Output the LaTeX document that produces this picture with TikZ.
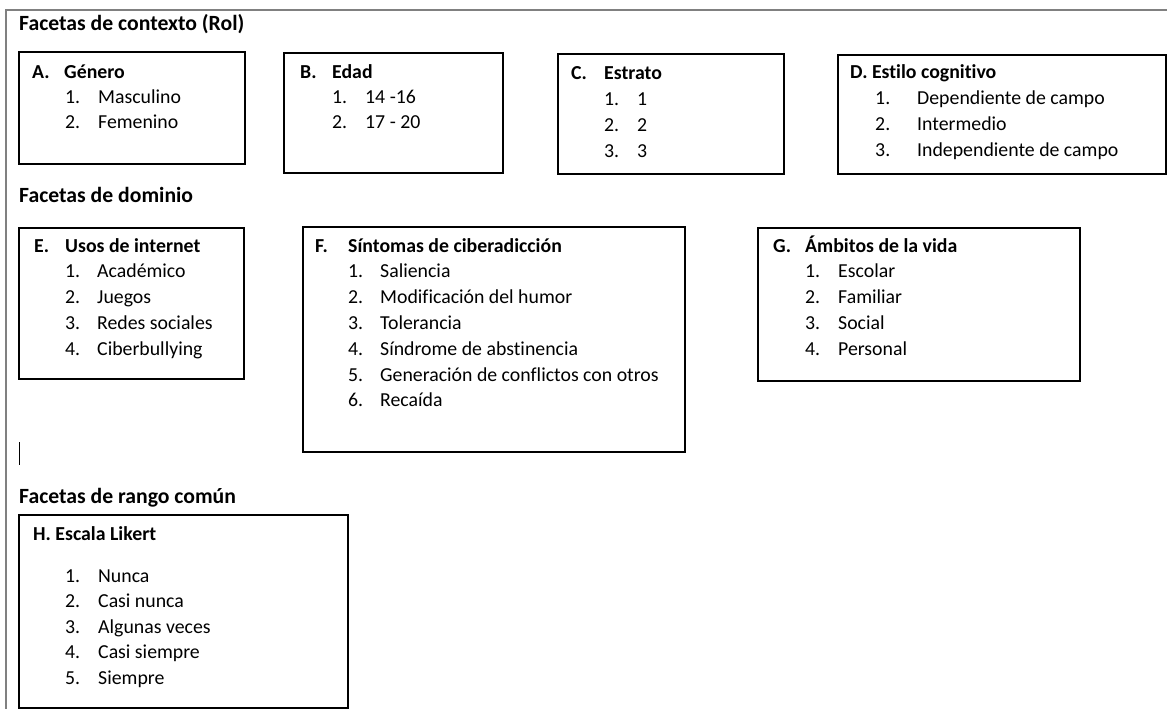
\documentclass[tikz,border=0pt]{standalone}
\usepackage{fontspec}
\setmainfont{Carlito}[Ligatures=NoCommon]
\usetikzlibrary{positioning}

\tikzset{
  caja/.style={draw, line width=1.8pt, anchor=north west, inner sep=0pt},
  testo/.style={anchor=base west, inner sep=0pt, font=\fontsize{19.8}{24}\selectfont},
  titolo/.style={testo, font=\fontsize{19.8}{24}\selectfont\bfseries},
  sezione/.style={testo, font=\fontsize{21.7}{26}\selectfont\bfseries},
}

\begin{document}
\begin{tikzpicture}[x=1pt, y=-1pt]
    \useasboundingbox (0,0) rectangle (1167,709);
    % Cornice esterna della pagina
    \draw[gray, line width=1.5pt] (1167,10) -- (6,10) -- (6,709);
    % Titoli delle sezioni
    \node[sezione] (contesto) at (19,31) {Facetas de contexto (Rol)};
    \node[sezione] (dominio) at (19,202) {Facetas de dominio};
    \node[sezione] (rango) at (19,503) {Facetas de rango común};
    % cursore di testo
    \draw[line width=0.9pt] (19,442) -- (19,465);

    % A. Genero
    \node[caja, minimum width=226pt, minimum height=112pt] (cajaA) at (18,51) {};
    \node[titolo] (letA) at (32,78) {A.};
    \node[titolo] (titA) at (64,78) {Género};
    \foreach \t [count=\i] in {Masculino,Femenino} {
      \node[testo] (nA\i) at (65,{78+25*\i}) {\i.};
      \node[testo] (A\i) at (98,{78+25*\i}) {\t};
    }
    % B. Edad
    \node[caja, minimum width=219pt, minimum height=120pt] (cajaB) at (283,52) {};
    \node[titolo] (letB) at (300,78) {B.};
    \node[titolo] (titB) at (332,78) {Edad};
    \foreach \t [count=\i] in {14 -16,17 - 20} {
      \node[testo] (nB\i) at (332,{78+25*\i}) {\i.};
      \node[testo] (B\i) at (365,{78+25*\i}) {\t};
    }
    % C. Estrato
    \node[caja, minimum width=226pt, minimum height=120pt] (cajaC) at (557,53) {};
    \node[titolo] (letC) at (571,79) {C.};
    \node[titolo] (titC) at (604,79) {Estrato};
    \foreach \t [count=\i] in {1,2,3} {
      \node[testo] (nC\i) at (604,{79+26*\i}) {\i.};
      \node[testo] (C\i) at (637,{79+26*\i}) {\t};
    }
    % D. Estilo cognitivo
    \node[caja, minimum width=328pt, minimum height=119pt] (cajaD) at (837,54) {};
    \node[titolo] (titD) at (850,78) {D. Estilo cognitivo};
    \foreach \t [count=\i] in {Dependiente de campo,Intermedio,Independiente de campo} {
      \node[testo] (nD\i) at (875,{79+25.7*\i}) {\i.};
      \node[testo] (D\i) at (917,{79+25.7*\i}) {\t};
    }

    % E. Usos de internet
    \node[caja, minimum width=225pt, minimum height=151pt] (cajaE) at (18,227) {};
    \node[titolo] (letE) at (34,252) {E.};
    \node[titolo] (titE) at (65,252) {Usos de internet};
    \foreach \t [count=\i] in {Académico,Juegos,Redes sociales,Ciberbullying} {
      \node[testo] (nE\i) at (65,{252+25.8*\i}) {\i.};
      \node[testo] (E\i) at (97,{252+25.8*\i}) {\t};
    }
    % F. Sintomas de ciberadiccion
    \node[caja, minimum width=382pt, minimum height=225pt] (cajaF) at (302,226) {};
    \node[titolo] (letF) at (315,252) {F.};
    \node[titolo] (titF) at (348,252) {Síntomas de ciberadicción};
    \foreach \t [count=\i] in {Saliencia,Modificación del humor,Tolerancia,Síndrome de abstinencia,Generación de conflictos con otros,Recaída} {
      \node[testo] (nF\i) at (348,{252+25.8*\i}) {\i.};
      \node[testo] (F\i) at (380,{252+25.8*\i}) {\t};
    }
    % G. Ambitos de la vida
    \node[caja, minimum width=322pt, minimum height=153pt] (cajaG) at (757,227) {};
    \node[titolo] (letG) at (773,252) {G.};
    \node[titolo] (titG) at (805,252) {Ámbitos de la vida};
    \foreach \t [count=\i] in {Escolar,Familiar,Social,Personal} {
      \node[testo] (nG\i) at (805,{252+25.8*\i}) {\i.};
      \node[testo] (G\i) at (838,{252+25.8*\i}) {\t};
    }

    % H. Escala Likert
    \node[caja, minimum width=329pt, minimum height=193pt] (cajaH) at (18,514) {};
    \node[titolo] (titH) at (33,540) {H. Escala Likert};
    \foreach \t [count=\i] in {Nunca,Casi nunca,Algunas veces,Casi siempre,Siempre} {
      \node[testo] (nH\i) at (65,{556.5+25.5*\i}) {\i.};
      \node[testo] (H\i) at (98,{556.5+25.5*\i}) {\t};
    }
  \end{tikzpicture}
\end{document}
